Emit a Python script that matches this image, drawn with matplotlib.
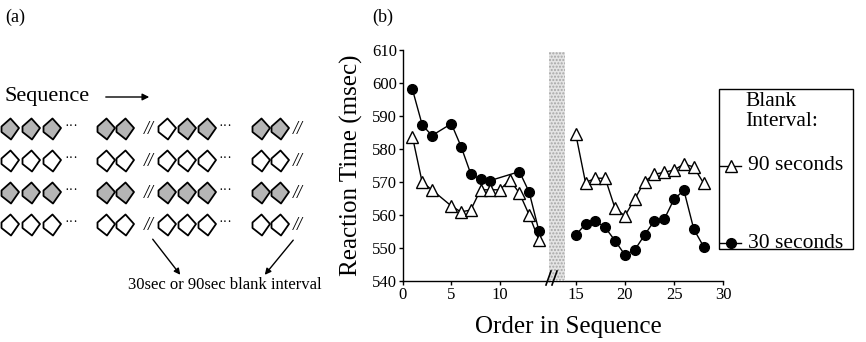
import numpy as np
import matplotlib.pyplot as plt
from matplotlib.patches import Polygon, Rectangle
from matplotlib.lines import Line2D

plt.rcParams['font.family'] = ['Liberation Serif', 'DejaVu Serif']

# ---- panel (b) data ----
pos90_a = [1, 2, 3, 5, 6, 7, 8, 9, 10, 11, 12, 13, 14]
rt90_a = [583.7, 569.9, 567.6, 562.7, 560.9, 561.5, 567.6, 567.6, 567.6, 570.6, 566.6, 560.0, 552.4]
pos30_a = [1, 2, 3, 5, 6, 7, 8, 9, 12, 13, 14]
rt30_a = [598.0, 587.3, 584.0, 587.6, 580.7, 572.4, 570.8, 570.4, 573.1, 566.9, 555.2]

pos_b = list(range(15, 29))
rt90_b = [584.6, 569.8, 571.1, 571.1, 562.0, 559.7, 564.8, 570.1, 572.3, 572.9, 573.6, 575.4, 574.5, 569.6]
rt30_b = [553.9, 557.2, 558.2, 556.2, 552.2, 547.9, 549.4, 553.9, 558.3, 558.7, 564.8, 567.4, 555.7, 550.4]

yticks = [540, 550, 560, 570, 580, 590, 600, 610]
xticks_a = [0, 5, 10]
xticks_b = [15, 20, 25, 30]
legend_labels = ['90 seconds', '30 seconds']

# ---- panel (a) schematic ----
# 1 = shaded stimulus, 0 = blank outline
rows_fill = [
    [1, 1, 1, 1, 1, 0, 1, 1, 1, 1],
    [0, 0, 0, 0, 0, 0, 0, 0, 0, 0],
    [1, 1, 1, 1, 1, 1, 1, 1, 1, 1],
    [0, 0, 0, 0, 0, 0, 0, 0, 0, 0],
]
diamond_x = [10, 31, 52, 106, 125, 167, 187, 207, 261, 280]
row_y = [129, 161, 193, 225]
dots_x = [65, 219]
slash_x = [144, 293]

W, H = 866, 342
fig = plt.figure(figsize=(W / 100, H / 100), dpi=100)

ax_l = fig.add_axes([402.7 / W, (H - 281) / H, 146.3 / W, 231.3 / H])
ax_r = fig.add_axes([549 / W, (H - 281) / H, 174.3 / W, 231.3 / H])

style90 = dict(color='black', lw=1, marker='^', ms=8, mfc='white', mec='black', mew=1)
style30 = dict(color='black', lw=1, marker='o', ms=7, mfc='black', mec='black')

ax_l.plot(pos90_a, rt90_a, zorder=3, **style90)
ax_l.plot(pos30_a, rt30_a, zorder=2, **style30)
ax_r.plot(pos_b, rt90_b, zorder=3, **style90)
ax_r.plot(pos_b, rt30_b, zorder=2, **style30)

for ax in (ax_l, ax_r):
    ax.set_ylim(540, 610)
    ax.spines['top'].set_visible(False)
    ax.spines['right'].set_visible(False)
    ax.tick_params(direction='out', length=3, width=1, labelsize=12, pad=1)
    ax.patch.set_alpha(0)
    for sp in ax.spines.values():
        sp.set_linewidth(1)

ax_l.set_xlim(0, 15.04)
ax_l.set_xticks(xticks_a)
ax_l.set_yticks(yticks)
ax_l.set_ylabel('Reaction Time (msec)', fontsize=18)
ax_l.yaxis.set_label_coords(-0.27, 0.5)

ax_r.set_xlim(12.29, 30)
ax_r.set_xticks(xticks_b)
ax_r.spines['left'].set_visible(False)
ax_r.set_yticks([])

# overlay in pixel coordinates for the schematic and decorations
ov = fig.add_axes([0, 0, 1, 1])
ov.set_xlim(0, W)
ov.set_ylim(H, 0)
ov.axis('off')

fig.text(568 / W, 1 - 327 / H, 'Order in Sequence', fontsize=18, ha='center', va='center')

# break band
ov.add_patch(Rectangle((549, 52), 16, 229, facecolor='#e4e4e4', edgecolor='#a6a6a6',
                       lw=0, hatch='.....'))
ov.plot([546, 551], [285, 271], color='black', lw=1.2)
ov.plot([552, 557], [285, 271], color='black', lw=1.2)

# legend box
ov.add_patch(Rectangle((719, 89), 134, 160, facecolor='white', edgecolor='black', lw=1))
ov.text(745, 102, 'Blank', fontsize=15.5, va='center', ha='left')
ov.text(745, 122, 'Interval:', fontsize=15.5, va='center', ha='left')
for yy, st, lab in zip([166, 243], [style90, style30], legend_labels):
    ov.add_line(Line2D([720, 741], [yy, yy], color='black', lw=1))
    ov.plot([730.5], [yy], linestyle='none', **{k: v for k, v in st.items() if k != 'lw'})
    ov.text(748, yy, lab, fontsize=15.5, va='center', ha='left')

# panel labels
ov.text(5, 17, '(a)', fontsize=13, va='center', ha='left')
ov.text(372, 17, '(b)', fontsize=13, va='center', ha='left')

# schematic
ov.text(4, 101, 'Sequence', fontsize=16, va='baseline', ha='left')
ov.annotate('', xy=(152, 97), xytext=(103, 97),
            arrowprops=dict(arrowstyle='-|>', color='black', lw=1, mutation_scale=10))

shape = np.array([[0.5, -10.5], [9, -1], [1, 10.5], [-8.5, 3], [-8.5, -2.5]])
for ry, fills in zip(row_y, rows_fill):
    for dx, f in zip(diamond_x, fills):
        pts = shape + [dx, ry]
        ov.add_patch(Polygon(pts, closed=True, facecolor='#b5b5b5' if f else 'white',
                             edgecolor='black', lw=1.3, joinstyle='round'))
    for xx in dots_x:
        ov.text(xx, ry - 2, '···', fontsize=10, va='center', ha='left')
    for xx in slash_x:
        ov.text(xx, ry + 1, '//', fontsize=13, style='italic', va='center', ha='left')

ov.text(128, 289, '30sec or 90sec blank interval', fontsize=12, va='baseline', ha='left')
ov.annotate('', xy=(182, 277), xytext=(151, 237),
            arrowprops=dict(arrowstyle='-|>', color='black', lw=1, mutation_scale=9))
ov.annotate('', xy=(263, 277), xytext=(295, 238),
            arrowprops=dict(arrowstyle='-|>', color='black', lw=1, mutation_scale=9))

fig.savefig('out.png', dpi=100)
